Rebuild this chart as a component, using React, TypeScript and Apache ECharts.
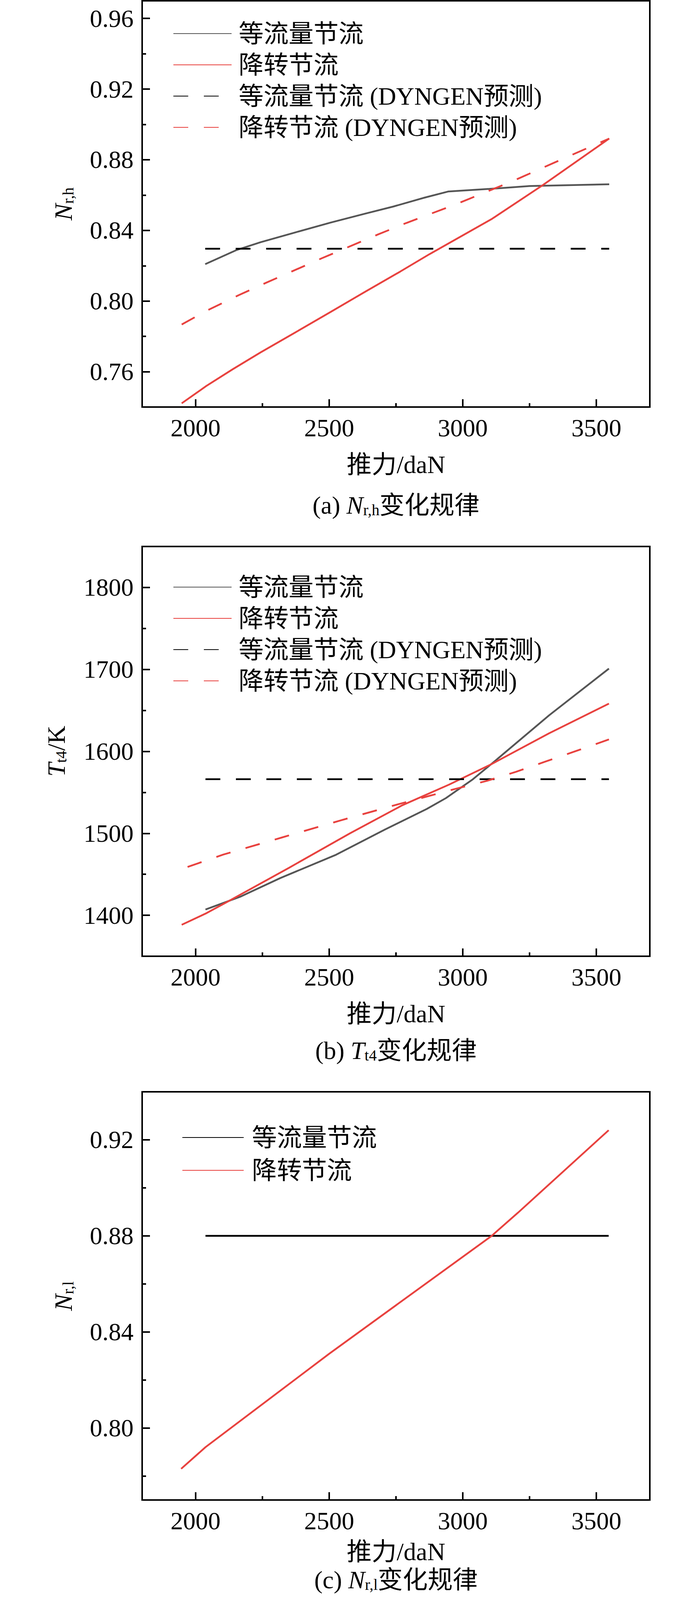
import React, { useEffect, useRef } from 'react';
import * as echarts from 'echarts';

const FONT = "'Liberation Serif', 'Noto Sans CJK SC', serif";
const GRAY = '#555555';
const RED = '#e8413e';
const BLACK = '#000000';
const DASH = [38, 40];

// ---------- shared axis ticks ----------
const thrustMin = 1800;
const thrustMax = 3700;
const thrustMajor = [2000, 2500, 3000, 3500];
const thrustMinor = [2250, 2750, 3250];

// ---------- (a) N_r,h ----------
const aEqThrust = [2036, 2152, 2243, 2374, 2505, 2635, 2740, 2858, 2945, 3100, 3250, 3548];
const aEqValue = [0.8209, 0.8288, 0.8333, 0.8389, 0.8444, 0.8495, 0.8535, 0.8586, 0.862, 0.8635, 0.8651, 0.8661];
const aRdThrust = [1948, 2040, 2139, 2243, 2374, 2505, 2635, 2766, 2876, 3110, 3300, 3548];
const aRdValue = [0.7421, 0.7519, 0.7614, 0.7709, 0.7823, 0.7938, 0.8053, 0.8167, 0.8266, 0.8466, 0.8657, 0.892];
const aEqPredThrust = [2036, 3548];
const aEqPredValue = [0.8296, 0.8296];
const aRdPredThrust = [1948, 2037, 2161, 2263, 2472, 2681, 2787, 2976, 3188, 3394, 3548];
const aRdPredValue = [0.7867, 0.7942, 0.8033, 0.8103, 0.8242, 0.8376, 0.8441, 0.8549, 0.868, 0.8818, 0.892];
const aYMin = 0.74;
const aYMax = 0.97;
const aYMajor = [0.76, 0.8, 0.84, 0.88, 0.92, 0.96];
const aYMinor = [0.78, 0.82, 0.86, 0.9, 0.94];

// ---------- (b) T_t4 ----------
const bEqThrust = [2037, 2167, 2317, 2526, 2709, 2865, 2937, 3038, 3105, 3323, 3547];
const bEqValue = [1407, 1422.6, 1445.4, 1473.9, 1504.7, 1529.7, 1543, 1566, 1584, 1644, 1701];
const bRdThrust = [1948, 2037, 2122, 2350, 2578, 2774, 2949, 3105, 3323, 3547];
const bRdValue = [1388.4, 1402, 1417, 1458, 1500, 1534.3, 1559.5, 1584, 1622, 1658.3];
const bEqPredThrust = [2037, 3547];
const bEqPredValue = [1566, 1566];
const bRdPredThrust = [1970, 2104, 2323, 2541, 2761, 2979, 3091, 3199, 3307, 3414, 3547];
const bRdPredValue = [1459, 1474.1, 1494.9, 1515.6, 1535.7, 1554.8, 1564.1, 1575, 1587.3, 1599.3, 1614.6];
const bYMin = 1350;
const bYMax = 1850;
const bYMajor = [1400, 1500, 1600, 1700, 1800];
const bYMinor = [1450, 1550, 1650, 1750];

// ---------- (c) N_r,l ----------
const cEqThrust = [2037, 3546];
const cEqValue = [0.88, 0.88];
const cRdThrust = [1946, 2037, 2500, 3108, 3206, 3546];
const cRdValue = [0.783, 0.792, 0.8309, 0.88, 0.8896, 0.924];
const cYMin = 0.77;
const cYMax = 0.94;
const cYMajor = [0.8, 0.84, 0.88, 0.92];
const cYMinor = [0.78, 0.82, 0.86, 0.9];

const NAME_EQ = '等流量节流';
const NAME_RD = '降转节流';
const NAME_EQ_P = '等流量节流 (DYNGEN预测)';
const NAME_RD_P = '降转节流 (DYNGEN预测)';

const pairs = (xs: number[], ys: number[]) => xs.map((x, i) => [x, ys[i]]);

const RICH: any = {
  t: { fontSize: 64, fontFamily: FONT, fill: '#000', color: '#000', lineHeight: 64, verticalAlign: 'top' },
  i: { fontSize: 64, fontFamily: FONT, fontStyle: 'italic', fill: '#000', color: '#000', lineHeight: 64, verticalAlign: 'top' },
  s: { fontSize: 40, fontFamily: FONT, fill: '#000', color: '#000', lineHeight: 40, padding: [33, 0, 0, 0], verticalAlign: 'bottom' },
};

const txt = (x: number, y: number, text: string, rotation = 0) => ({
  type: 'text',
  x,
  y,
  rotation,
  silent: true,
  style: {
    text,
    rich: RICH,
    fontSize: 64,
    fontFamily: FONT,
    fill: '#000',
    align: 'center',
    verticalAlign: 'middle',
    textAlign: 'center',
    textVerticalAlign: 'middle',
  },
});

const line = (name: string, data: number[][], color: string, dashed: boolean) => ({
  name,
  type: 'line',
  data,
  symbol: 'none',
  showSymbol: false,
  xAxisIndex: 0,
  yAxisIndex: 0,
  lineStyle: { color, width: 4.5, type: dashed ? DASH : 'solid', cap: 'butt' },
  itemStyle: { color },
  z: 3,
});

function buildOption(cfg: any) {
  const tickStyle = { color: '#000', width: 4 };
  return {
    animation: false,
    grid: {
      left: 364,
      top: cfg.gridTop,
      width: 1300,
      height: cfg.gridHeight,
      show: true,
      borderColor: '#000',
      borderWidth: 4,
      backgroundColor: 'transparent',
    },
    xAxis: [
      {
        type: 'value',
        min: thrustMin,
        max: thrustMax,
        position: 'bottom',
        axisLine: { show: true, lineStyle: tickStyle },
        axisTick: { show: true, inside: true, length: 20, customValues: thrustMajor, lineStyle: tickStyle },
        axisLabel: {
          show: true,
          customValues: thrustMajor,
          margin: 21,
          fontSize: 64,
          fontFamily: FONT,
          color: '#000',
          formatter: (v: number) => String(v),
        },
        splitLine: { show: false },
      },
      {
        type: 'value',
        min: thrustMin,
        max: thrustMax,
        position: 'bottom',
        axisLine: { show: false },
        axisTick: { show: true, inside: true, length: 10, customValues: thrustMinor, lineStyle: tickStyle },
        axisLabel: { show: false },
        splitLine: { show: false },
      },
    ],
    yAxis: [
      {
        type: 'value',
        min: cfg.yMin,
        max: cfg.yMax,
        position: 'left',
        axisLine: { show: true, lineStyle: tickStyle },
        axisTick: { show: true, inside: true, length: 20, customValues: cfg.yMajor, lineStyle: tickStyle },
        axisLabel: {
          show: true,
          customValues: cfg.yMajor,
          margin: 22,
          fontSize: 64,
          fontFamily: FONT,
          color: '#000',
          formatter: (v: number) => v.toFixed(cfg.decimals),
        },
        splitLine: { show: false },
      },
      {
        type: 'value',
        min: cfg.yMin,
        max: cfg.yMax,
        position: 'left',
        axisLine: { show: false },
        axisTick: { show: true, inside: true, length: 10, customValues: cfg.yMinor, lineStyle: tickStyle },
        axisLabel: { show: false },
        splitLine: { show: false },
      },
    ],
    legend: {
      orient: 'vertical',
      left: cfg.legendLeft,
      top: cfg.legendTop,
      padding: 0,
      itemWidth: cfg.legendItemWidth,
      itemHeight: 20,
      itemGap: cfg.legendGap,
      selectedMode: false,
      itemStyle: { opacity: 0 },
      textStyle: {
        fontSize: 64,
        fontFamily: FONT,
        color: '#000',
        lineHeight: 64,
        padding: [0, 0, 0, cfg.legendTextPad],
      },
      data: cfg.legendData,
    },
    graphic: [
      txt(1014, cfg.xNameY, '推力/daN'),
      txt(1014, cfg.captionY, cfg.caption),
      txt(cfg.yNameX, cfg.yNameY, cfg.yName, Math.PI / 2),
    ],
    series: cfg.series,
  };
}

const optionA = buildOption({
  gridTop: 2,
  gridHeight: 1040,
  yMin: aYMin,
  yMax: aYMax,
  yMajor: aYMajor,
  yMinor: aYMinor,
  decimals: 2,
  legendLeft: 443,
  legendTop: 54,
  legendItemWidth: 149,
  legendGap: 16,
  legendTextPad: 13,
  legendData: [NAME_EQ, NAME_RD, NAME_EQ_P, NAME_RD_P],
  xNameY: 1189,
  captionY: 1293,
  caption: '{t|(a) }{i|N}{s|r,h}{t|变化规律}',
  yNameX: 162,
  yNameY: 522,
  yName: '{i|N}{s|r,h}',
  series: [
    line(NAME_EQ, pairs(aEqThrust, aEqValue), GRAY, false),
    line(NAME_RD, pairs(aRdThrust, aRdValue), RED, false),
    line(NAME_EQ_P, pairs(aEqPredThrust, aEqPredValue), BLACK, true),
    line(NAME_RD_P, pairs(aRdPredThrust, aRdPredValue), RED, true),
  ],
});

const optionB = buildOption({
  gridTop: 19,
  gridHeight: 1049,
  yMin: bYMin,
  yMax: bYMax,
  yMajor: bYMajor,
  yMinor: bYMinor,
  decimals: 0,
  legendLeft: 443,
  legendTop: 91,
  legendItemWidth: 149,
  legendGap: 16,
  legendTextPad: 13,
  legendData: [NAME_EQ, NAME_RD, NAME_EQ_P, NAME_RD_P],
  xNameY: 1215,
  captionY: 1309,
  caption: '{t|(b) }{i|T}{s|t4}{t|变化规律}',
  yNameX: 144,
  yNameY: 543,
  yName: '{i|T}{s|t4}{t|/K}',
  series: [
    line(NAME_EQ, pairs(bEqThrust, bEqValue), GRAY, false),
    line(NAME_RD, pairs(bRdThrust, bRdValue), RED, false),
    line(NAME_EQ_P, pairs(bEqPredThrust, bEqPredValue), BLACK, true),
    line(NAME_RD_P, pairs(bRdPredThrust, bRdPredValue), RED, true),
  ],
});

const optionC = buildOption({
  gridTop: 35,
  gridHeight: 1045,
  yMin: cYMin,
  yMax: cYMax,
  yMajor: cYMajor,
  yMinor: cYMinor,
  decimals: 2,
  legendLeft: 466,
  legendTop: 120,
  legendItemWidth: 157,
  legendGap: 20,
  legendTextPad: 16,
  legendData: [NAME_EQ, NAME_RD],
  xNameY: 1212,
  captionY: 1284,
  caption: '{t|(c) }{i|N}{s|r,l}{t|变化规律}',
  yNameX: 162,
  yNameY: 558,
  yName: '{i|N}{s|r,l}',
  series: [
    line(NAME_EQ, pairs(cEqThrust, cEqValue), BLACK, false),
    line(NAME_RD, pairs(cRdThrust, cRdValue), RED, false),
  ],
});

function Panel({ option, top, height }: { option: any; top: number; height: number }) {
  const ref = useRef<HTMLDivElement>(null);
  useEffect(() => {
    if (!ref.current) return;
    const chart = echarts.init(ref.current, undefined, { renderer: 'svg' });
    chart.setOption(option);
    return () => chart.dispose();
  }, [option]);
  return (
    <div
      ref={ref}
      style={{ position: 'absolute', left: 0, top, width: 1772, height }}
    />
  );
}

export default function App() {
  useEffect(() => {
    document.body.style.margin = '0';
    document.body.style.background = '#fff';
  }, []);
  return (
    <div style={{ position: 'absolute', left: 0, top: 0, width: 1772, height: 4142, background: '#fff' }}>
      <Panel option={optionA} top={0} height={1380} />
      <Panel option={optionB} top={1380} height={1380} />
      <Panel option={optionC} top={2760} height={1382} />
    </div>
  );
}
